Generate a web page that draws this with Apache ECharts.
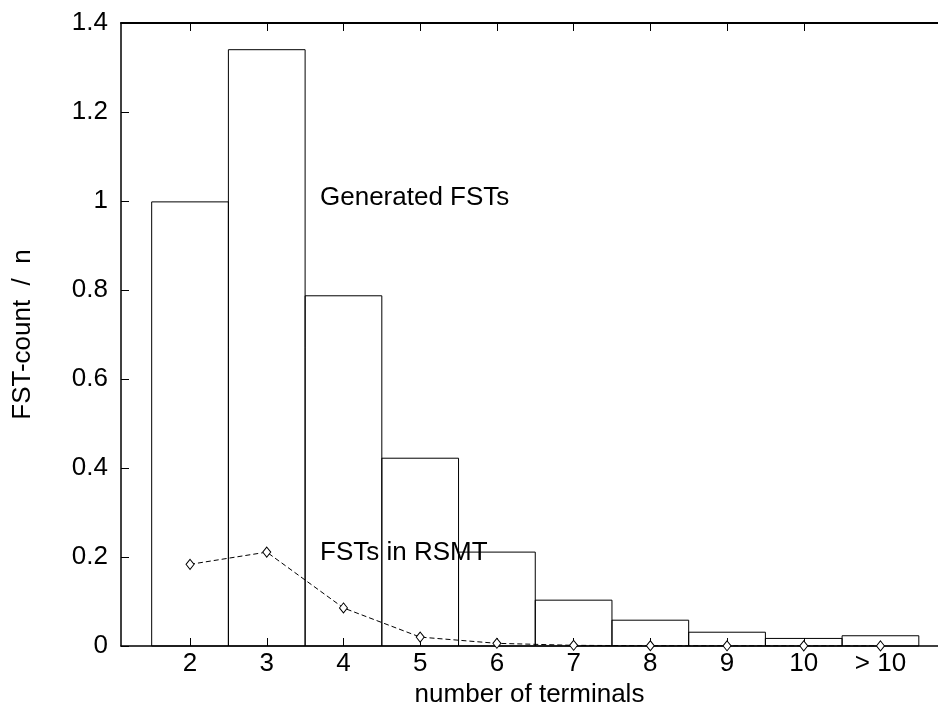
<!DOCTYPE html>
<html>
<head>
<meta charset="utf-8">
<script src="https://cdn.jsdelivr.net/npm/echarts@6/dist/echarts.min.js"></script>
<style>html,body{margin:0;padding:0;background:#fff}#c{width:938px;height:708px}</style>
</head>
<body>
<div id="c"></div>
<script>
const categories = ['2','3','4','5','6','7','8','9','10','> 10'];
const generatedFSTs = [0.998, 1.340, 0.787, 0.422, 0.211, 0.103, 0.058, 0.031, 0.017, 0.023];
const fstsInRSMT = [0.1835, 0.211, 0.0855, 0.020, 0.006, 0.0015, 0.0006, 0.0004, 0.0003, 0.0002];
const yTicks = [0, 0.2, 0.4, 0.6, 0.8, 1, 1.2, 1.4];

const FONT = "'Liberation Sans', Arial, Helvetica, sans-serif";
const FS = 26;
const xs = categories.map((c, i) => i + 2);
const barData = xs.map((x, i) => [x, generatedFSTs[i]]);
const lineData = xs.map((x, i) => [x, fstsInRSMT[i]]);
const tickXs = xs.slice(0, 9);

const chart = echarts.init(document.getElementById('c'), null, {renderer: 'canvas'});
const axisTextStyle = {color: '#000', fontFamily: FONT, fontSize: FS};
chart.setOption({
  animation: false,
  backgroundColor: '#fff',
  grid: {left: 121, top: 23, right: 0, bottom: 62, containLabel: false, outerBoundsMode: 'none'},
  xAxis: [{
    type: 'value', min: 1.1, max: 11.75, position: 'bottom',
    name: 'number of terminals', nameLocation: 'middle', nameGap: 34,
    nameTextStyle: axisTextStyle,
    axisLine: {show: true, onZero: false, lineStyle: {color: '#000', width: 1.5}},
    axisTick: {show: true, inside: true, length: 8, customValues: tickXs, lineStyle: {color: '#000', width: 1}},
    axisLabel: {show: true, customValues: xs, margin: 5, color: '#000', fontFamily: FONT, fontSize: FS,
      formatter: v => categories[Math.round(v) - 2]},
    splitLine: {show: false}
  }, {
    type: 'value', min: 1.1, max: 11.75, position: 'top',
    axisLine: {show: true, onZero: false, lineStyle: {color: '#000', width: 2}},
    axisTick: {show: true, inside: true, length: 8, customValues: tickXs, lineStyle: {color: '#000', width: 1}},
    axisLabel: {show: false},
    splitLine: {show: false}
  }],
  yAxis: {
    type: 'value', min: 0, max: 1.4, interval: 0.2,
    name: 'FST-count  /  n', nameLocation: 'middle', nameGap: 85, nameRotate: 90,
    nameTextStyle: axisTextStyle,
    axisLine: {show: true, lineStyle: {color: '#000', width: 1.5}},
    axisTick: {show: true, inside: true, length: 8, lineStyle: {color: '#000', width: 1}},
    axisLabel: {margin: 13, color: '#000', fontFamily: FONT, fontSize: FS,
      formatter: v => String(parseFloat(v.toFixed(1)))},
    splitLine: {show: false}
  },
  series: [{
    type: 'custom',
    name: 'Generated FSTs',
    data: barData,
    encode: {x: 0, y: 1},
    renderItem: function (params, api) {
      const x = api.value(0), y = api.value(1);
      const p1 = api.coord([x - 0.5, y]);
      const p2 = api.coord([x + 0.5, 0]);
      return {
        type: 'rect',
        shape: {x: p1[0], y: p1[1], width: p2[0] - p1[0], height: p2[1] - p1[1]},
        style: {fill: 'none', stroke: '#000', lineWidth: 1}
      };
    },
    z: 1
  }, {
    type: 'line',
    name: 'FSTs in RSMT',
    data: lineData,
    symbol: 'diamond',
    symbolSize: [8, 10],
    showSymbol: true,
    lineStyle: {color: '#000', width: 1, type: [5, 3]},
    itemStyle: {color: '#fff', borderColor: '#000', borderWidth: 1},
    z: 3
  }],
  graphic: [{
    type: 'text', left: 320, top: 185,
    style: {text: 'Generated FSTs', fill: '#000', font: FS + 'px ' + FONT}
  }, {
    type: 'text', left: 320, top: 540,
    style: {text: 'FSTs in RSMT', fill: '#000', font: FS + 'px ' + FONT}
  }]
});
</script>
</body>
</html>
